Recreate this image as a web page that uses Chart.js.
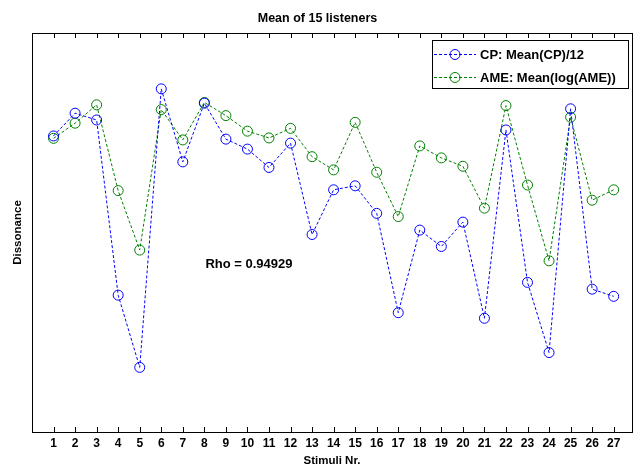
<!DOCTYPE html>
<html>
<head>
<meta charset="utf-8">
<script src="https://cdn.jsdelivr.net/npm/chart.js@4.4.1/dist/chart.umd.min.js"></script>
<style>
html, body { margin: 0; padding: 0; background: #fff; }
</style>
</head>
<body>
<canvas id="dissonanceChart" width="638" height="467"></canvas>
<script>
// values (y axis has no labels, units are arbitrary 0..10)
const stimuli = [1, 2, 3, 4, 5, 6, 7, 8, 9, 10, 11, 12, 13, 14, 15, 16, 17, 18, 19, 20, 21, 22, 23, 24, 25, 26, 27]
const cp_values = [7.42, 7.99, 7.82, 3.43, 1.62, 8.60, 6.77, 8.24, 7.34, 7.09, 6.63, 7.24, 4.95, 6.07, 6.17, 5.48, 2.99, 5.06, 4.65, 5.26, 2.85, 7.57, 3.75, 1.99, 8.10, 3.58, 3.40]
const ame_values = [7.36, 7.74, 8.20, 6.05, 4.56, 8.08, 7.32, 8.26, 7.93, 7.54, 7.37, 7.61, 6.90, 6.57, 7.76, 6.51, 5.40, 7.17, 6.87, 6.66, 5.61, 8.18, 6.19, 4.29, 7.89, 5.81, 6.07]
const series_labels = ["CP: Mean(CP)/12", "AME: Mean(log(AME))"]
const rho_text = "Rho = 0.94929"
const rho_pos = { x: 8.05, y: 4.19 }

const font_family = "'Liberation Sans', Arial, sans-serif"

const toPoints = (values) => values.map((value, index) => ({ x: stimuli[index], y: value }))

const makeDataset = (label, values, color) => ({
    label: label,
    data: toPoints(values),
    borderColor: color,
    backgroundColor: 'transparent',
    borderWidth: 1,
    borderDash: [3, 2],
    pointStyle: 'circle',
    pointRadius: 5,
    pointHoverRadius: 5,
    pointBorderWidth: 1,
    pointBorderColor: color,
    pointBackgroundColor: 'transparent',
    tension: 0,
    fill: false
})

// frame, inward ticks, legend box and the Rho note
const matlabFrame = {
    id: 'matlabFrame',
    afterDatasetsDraw(chart) {
        const ctx = chart.ctx
        const area = chart.chartArea
        const x = chart.scales.x
        const y = chart.scales.y
        ctx.save()
        ctx.strokeStyle = '#000'
        ctx.lineWidth = 1
        ctx.setLineDash([])
        ctx.beginPath()
        stimuli.forEach((s) => {
            const px = Math.round(x.getPixelForValue(s)) + 0.5
            ctx.moveTo(px, area.top)
            ctx.lineTo(px, area.top + 5)
            ctx.moveTo(px, area.bottom)
            ctx.lineTo(px, area.bottom - 5)
        })
        ctx.stroke()
        ctx.strokeRect(Math.round(area.left) + 0.5, Math.round(area.top) + 0.5,
            Math.round(area.right - area.left), Math.round(area.bottom - area.top))

        // Rho note
        ctx.fillStyle = '#000'
        ctx.font = "bold 13px " + font_family
        ctx.textAlign = 'left'
        ctx.textBaseline = 'middle'
        ctx.fillText(rho_text, x.getPixelForValue(rho_pos.x), y.getPixelForValue(rho_pos.y))

        // legend
        const boxW = 196, boxH = 48
        const boxL = Math.round(area.right) - 4 - boxW
        const boxT = Math.round(area.top) + 7
        ctx.fillStyle = '#fff'
        ctx.fillRect(boxL, boxT, boxW, boxH)
        ctx.strokeRect(boxL + 0.5, boxT + 0.5, boxW, boxH)
        chart.data.datasets.forEach((ds, i) => {
            const cy = boxT + 14 + i * 23
            ctx.strokeStyle = ds.borderColor
            ctx.setLineDash([3, 2])
            ctx.beginPath()
            ctx.moveTo(boxL + 2, cy + 0.5)
            ctx.lineTo(boxL + 44, cy + 0.5)
            ctx.stroke()
            ctx.setLineDash([])
            ctx.beginPath()
            ctx.arc(boxL + 23, cy + 0.5, 5, 0, Math.PI * 2)
            ctx.stroke()
            ctx.fillStyle = '#000'
            ctx.font = "bold 13px " + font_family
            ctx.fillText(ds.label, boxL + 48, cy + 1)
        })
        ctx.restore()
    }
}

const ctx = document.getElementById('dissonanceChart').getContext('2d')
const chart = new Chart(ctx, {
    type: 'line',
    data: {
        datasets: [
            makeDataset(series_labels[0], cp_values, 'rgb(0, 0, 255)'),
            makeDataset(series_labels[1], ame_values, 'rgb(0, 128, 0)')
        ]
    },
    options: {
        responsive: false,
        animation: false,
        events: [],
        layout: { padding: { left: 0, right: 3, top: 0, bottom: 0 } },
        plugins: {
            legend: { display: false },
            tooltip: { enabled: false },
            title: {
                display: true,
                text: 'Mean of 15 listeners',
                color: '#000',
                font: { family: font_family, size: 12.5, weight: 'bold' },
                padding: { top: 11, bottom: 7 }
            }
        },
        scales: {
            x: {
                type: 'linear',
                min: 0,
                max: 27.85,
                grid: { display: false, drawTicks: false },
                border: { display: false },
                afterBuildTicks: (scale) => { scale.ticks = stimuli.map((s) => ({ value: s })) },
                ticks: {
                    autoSkip: false,
                    maxRotation: 0,
                    padding: 4,
                    color: '#000',
                    font: { family: font_family, size: 12, weight: 'bold' },
                    callback: (value) => String(value)
                },
                title: {
                    display: true,
                    text: 'Stimuli Nr.',
                    color: '#000',
                    font: { family: font_family, size: 11.5, weight: 'bold', lineHeight: 1 },
                    padding: { top: 0, bottom: 0 }
                },
                afterFit: (scale) => { scale.height = 35 }
            },
            y: {
                min: 0,
                max: 10,
                grid: { display: false, drawTicks: false },
                border: { display: false },
                ticks: { display: false },
                title: {
                    display: true,
                    text: 'Dissonance',
                    color: '#000',
                    font: { family: font_family, size: 11.5, weight: 'bold' },
                    padding: { top: 11, bottom: 0 }
                },
                afterFit: (scale) => { scale.width = 32 }
            }
        }
    },
    plugins: [matlabFrame]
})
</script>
</body>
</html>
